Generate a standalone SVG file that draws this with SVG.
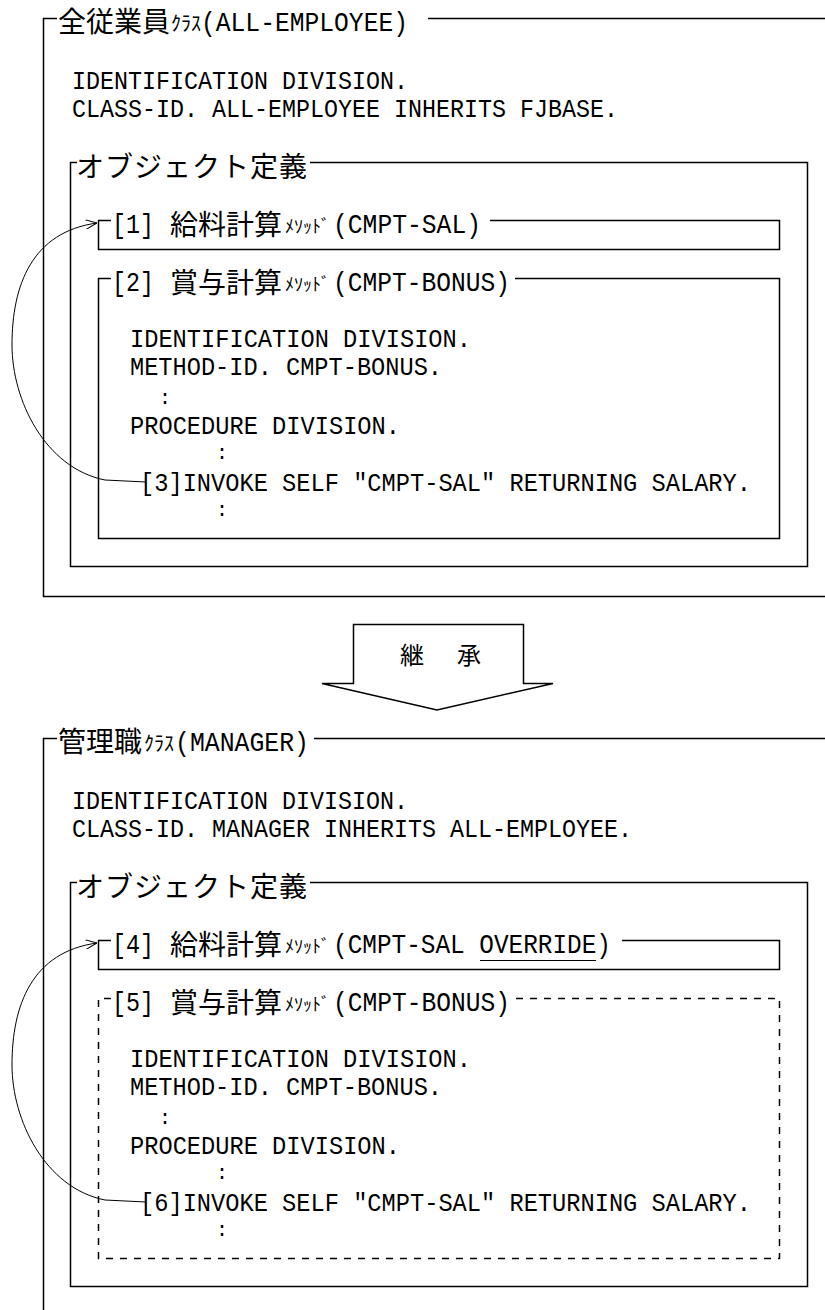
<svg xmlns="http://www.w3.org/2000/svg" width="825" height="1310" viewBox="0 0 825 1310">
<style>
.ln{fill:none;stroke:#000;stroke-width:1.5}
.dash{stroke-dasharray:7 7}
.cv{fill:none;stroke:#000;stroke-width:1}
.lat{font-family:"Liberation Mono","DejaVu Sans Mono",monospace;font-size:26px;fill:#000}
.ttl{font-size:28px}
.col{font-size:20px}
.cjk{font-family:"Noto Sans CJK JP","Noto Sans CJK SC",sans-serif;font-size:28px;fill:#000}
.hk{font-size:20px}
.mk{font-size:18px}
.ob{letter-spacing:1px}
.big{font-size:24px}
</style>
<defs>
<marker id="arr" viewBox="0 0 12 10" refX="12" refY="5" markerWidth="12" markerHeight="10" markerUnits="userSpaceOnUse" orient="auto">
<path d="M0,0 L12,5 L0,10" fill="none" stroke="#000" stroke-width="1"/>
</marker>
</defs>
<rect width="825" height="1310" fill="#fff"/>

<g id="class-all-employee">
<path class="ln" d="M57,18.5 H43.5 V596.5 H825 M428,18.5 H825"/>
<text class="cjk" x="58" y="32">全従業員</text>
<text class="cjk hk" x="171" y="30.5">ｸﾗｽ</text>
<text class="lat ttl" x="201" y="30.5" textLength="207" lengthAdjust="spacingAndGlyphs">(ALL-EMPLOYEE)</text>
<text class="lat" x="72" y="89" textLength="336" lengthAdjust="spacingAndGlyphs">IDENTIFICATION DIVISION.</text>
<text class="lat" x="72" y="117" textLength="546" lengthAdjust="spacingAndGlyphs">CLASS-ID. ALL-EMPLOYEE INHERITS FJBASE.</text>
</g>

<g id="objdef-1">
<path class="ln" d="M77,162.5 H70.5 V566.5 H807.5 V162.5 H310"/>
<text class="cjk ob" x="76" y="176.5">オブジェクト定義</text>
</g>

<g id="method-1">
<path class="ln" d="M111,220.5 H98.5 V249.5 H779.5 V220.5 H490"/>
<text class="lat ttl" x="112" y="232.5" textLength="42" lengthAdjust="spacingAndGlyphs">[1]</text>
<text class="cjk" x="170" y="234.5">給料計算</text>
<text class="cjk mk" x="285" y="232.5">ﾒｿｯﾄﾞ</text>
<text class="lat ttl" x="333" y="232.5" textLength="148" lengthAdjust="spacingAndGlyphs">(CMPT-SAL)</text>
</g>

<g id="method-2">
<path class="ln" d="M111,278.5 H98.5 V538.5 H779.5 V278.5 H515"/>
<text class="lat ttl" x="112" y="290.5" textLength="42" lengthAdjust="spacingAndGlyphs">[2]</text>
<text class="cjk" x="170" y="292.5">賞与計算</text>
<text class="cjk mk" x="285" y="290.5">ﾒｿｯﾄﾞ</text>
<text class="lat ttl" x="333" y="290.5" textLength="177" lengthAdjust="spacingAndGlyphs">(CMPT-BONUS)</text>
<text class="lat" x="130" y="347" textLength="341" lengthAdjust="spacingAndGlyphs">IDENTIFICATION DIVISION.</text>
<text class="lat" x="130" y="375" textLength="312" lengthAdjust="spacingAndGlyphs">METHOD-ID. CMPT-BONUS.</text>
<text class="lat col" x="165" y="403.5" text-anchor="middle">:</text>
<text class="lat" x="130" y="434" textLength="270" lengthAdjust="spacingAndGlyphs">PROCEDURE DIVISION.</text>
<text class="lat col" x="222" y="459" text-anchor="middle">:</text>
<text class="lat" x="140" y="491" textLength="611" lengthAdjust="spacingAndGlyphs">[3]INVOKE SELF "CMPT-SAL" RETURNING SALARY.</text>
<text class="lat col" x="222" y="516" text-anchor="middle">:</text>
</g>

<g id="inherit-arrow">
<path class="ln" d="M322,683.5 H353.5 V624.5 H523.5 V683.5 H553 L437,710 Z"/>
<text class="cjk big" x="400" y="664">継</text>
<text class="cjk big" x="457" y="664">承</text>
</g>

<g id="class-manager">
<path class="ln" d="M57,738.5 H43.5 V1310 M314,738.5 H825"/>
<text class="cjk" x="58" y="752">管理職</text>
<text class="cjk hk" x="144" y="750.5">ｸﾗｽ</text>
<text class="lat ttl" x="175" y="750.5" textLength="134" lengthAdjust="spacingAndGlyphs">(MANAGER)</text>
<text class="lat" x="72" y="809" textLength="336" lengthAdjust="spacingAndGlyphs">IDENTIFICATION DIVISION.</text>
<text class="lat" x="72" y="837" textLength="560" lengthAdjust="spacingAndGlyphs">CLASS-ID. MANAGER INHERITS ALL-EMPLOYEE.</text>
</g>

<g id="objdef-2">
<path class="ln" d="M77,882.5 H70.5 V1286.5 H807.5 V882.5 H310"/>
<text class="cjk ob" x="76" y="896.5">オブジェクト定義</text>
</g>

<g id="method-4">
<path class="ln" d="M111,940.5 H98.5 V969.5 H779.5 V940.5 H622"/>
<text class="lat ttl" x="112" y="952.5" textLength="42" lengthAdjust="spacingAndGlyphs">[4]</text>
<text class="cjk" x="170" y="954.5">給料計算</text>
<text class="cjk mk" x="285" y="952.5">ﾒｿｯﾄﾞ</text>
<text class="lat ttl" x="333" y="952.5" textLength="278" lengthAdjust="spacingAndGlyphs">(CMPT-SAL OVERRIDE)</text>
<path class="cv" d="M480,960.5 H596"/>
</g>

<g id="method-5">
<path class="ln dash" d="M111,998.5 H98.5 V1258.5 H779.5 V998.5 H514"/>
<text class="lat ttl" x="112" y="1010.5" textLength="42" lengthAdjust="spacingAndGlyphs">[5]</text>
<text class="cjk" x="170" y="1012.5">賞与計算</text>
<text class="cjk mk" x="285" y="1010.5">ﾒｿｯﾄﾞ</text>
<text class="lat ttl" x="333" y="1010.5" textLength="177" lengthAdjust="spacingAndGlyphs">(CMPT-BONUS)</text>
<text class="lat" x="130" y="1067" textLength="341" lengthAdjust="spacingAndGlyphs">IDENTIFICATION DIVISION.</text>
<text class="lat" x="130" y="1095" textLength="312" lengthAdjust="spacingAndGlyphs">METHOD-ID. CMPT-BONUS.</text>
<text class="lat col" x="165" y="1123.5" text-anchor="middle">:</text>
<text class="lat" x="130" y="1154" textLength="270" lengthAdjust="spacingAndGlyphs">PROCEDURE DIVISION.</text>
<text class="lat col" x="222" y="1179" text-anchor="middle">:</text>
<text class="lat" x="140" y="1211" textLength="611" lengthAdjust="spacingAndGlyphs">[6]INVOKE SELF "CMPT-SAL" RETURNING SALARY.</text>
<text class="lat col" x="222" y="1236" text-anchor="middle">:</text>
</g>

<g id="connectors">
<path class="cv" marker-end="url(#arr)" d="M146,482 L105,480 C45,468 12,400 12,345 C12,285 32,232 97,223"/>
<path class="cv" marker-end="url(#arr)" d="M146,1202 L105,1200 C45,1188 12,1120 12,1065 C12,1005 32,952 97,943"/>
</g>
</svg>
